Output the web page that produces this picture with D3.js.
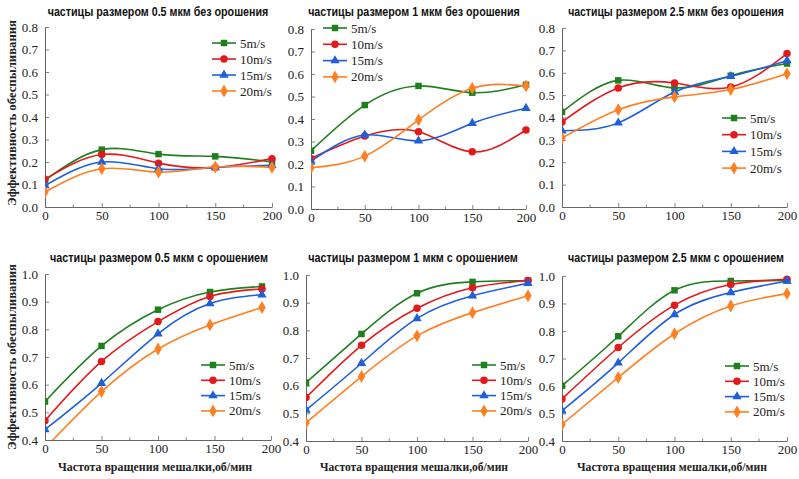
<!DOCTYPE html>
<html>
<head>
<meta charset="utf-8">
<script src="https://cdn.jsdelivr.net/npm/d3@7"></script>
<style>
  body { margin: 0; background: #fff; }
  .tick-label { font-family: "Liberation Serif", "Times New Roman", serif; font-size: 13px; fill: #222; }
  .title { font-family: "Liberation Sans Narrow", "Liberation Sans", Arial, sans-serif; font-weight: bold; font-size: 12px; fill: #111; }
  .axis-title { font-family: "Liberation Serif", "Times New Roman", serif; font-weight: bold; font-size: 13px; fill: #222; }
  .legend-text { font-family: "Liberation Serif", "Times New Roman", serif; font-size: 13px; fill: #222; }
</style>
</head>
<body>
<div id="chart"></div>
<script>
// speeds (legend) and stirrer rpm (x values)
const speeds = ["5m/s", "10m/s", "15m/s", "20m/s"];
const rpm = [0, 50, 100, 150, 200];
const rpmSpray05 = [0, 50, 100, 146, 192];
const yTicksDry = [0, 0.1, 0.2, 0.3, 0.4, 0.5, 0.6, 0.7, 0.8];
const yTicksSpray = [0.4, 0.5, 0.6, 0.7, 0.8, 0.9, 1.0];
const xTicks = [0, 50, 100, 150, 200];

// dust removal efficiency, one row per speed
const dry05 = [
  [0.12, 0.255, 0.235, 0.225, 0.20],
  [0.123, 0.233, 0.195, 0.176, 0.215],
  [0.095, 0.20, 0.17, 0.175, 0.185],
  [0.067, 0.17, 0.155, 0.178, 0.176]
];
const dry1 = [
  [0.259, 0.462, 0.547, 0.517, 0.552],
  [0.225, 0.324, 0.343, 0.254, 0.351],
  [0.213, 0.329, 0.303, 0.381, 0.448],
  [0.183, 0.235, 0.396, 0.537, 0.547]
];
const dry25 = [
  [0.425, 0.566, 0.532, 0.587, 0.641],
  [0.38, 0.532, 0.554, 0.536, 0.686],
  [0.341, 0.376, 0.514, 0.584, 0.654],
  [0.308, 0.435, 0.492, 0.525, 0.596]
];
const spray05 = [
  [0.539, 0.74, 0.871, 0.935, 0.955],
  [0.47, 0.684, 0.828, 0.919, 0.946],
  [0.438, 0.605, 0.784, 0.893, 0.925],
  [0.37, 0.575, 0.729, 0.816, 0.879]
];
const spray1 = [
  [0.611, 0.787, 0.934, 0.975, 0.98],
  [0.557, 0.746, 0.88, 0.954, 0.98],
  [0.512, 0.681, 0.843, 0.925, 0.97],
  [0.466, 0.633, 0.78, 0.864, 0.925]
];
const spray25 = [
  [0.601, 0.781, 0.948, 0.982, 0.984],
  [0.553, 0.74, 0.894, 0.969, 0.988],
  [0.51, 0.684, 0.86, 0.94, 0.982],
  [0.46, 0.631, 0.79, 0.891, 0.936]
];

const colors = ["#1f7f1f", "#e31a1c", "#1f5fdc", "#ff8022"];
const symbols = [d3.symbolSquare, d3.symbolCircle, d3.symbolTriangle, d3.symbolDiamond];
const symSizes = [42, 44, 38, 48];

const W = 799, H = 479;

const panels = [
  {title: "частицы размером 0.5 мкм без орошения", tl: 221, data: dry05, xs: rpm, yd: [0, 0.8], yt: yTicksDry,
   x0: 45, x1: 272, yTop: 27, yBot: 207, ty: 16, tx: 158, lx: 212, ly: 43, ls: 16},
  {title: "частицы размером 1 мкм без орошения", tl: 212, data: dry1, xs: rpm, yd: [0, 0.8], yt: yTicksDry,
   x0: 311, x1: 526, yTop: 29, yBot: 209, ty: 16, tx: 414, lx: 323, ly: 28, ls: 16.3},
  {title: "частицы размером 2.5 мкм без орошения", tl: 216, data: dry25, xs: rpm, yd: [0, 0.8], yt: yTicksDry,
   x0: 562, x1: 787, yTop: 28, yBot: 207, ty: 16, tx: 676, lx: 722, ly: 118, ls: 16.7},
  {title: "частицы размером 0.5 мкм с орошением", tl: 218, data: spray05, xs: rpmSpray05, yd: [0.4, 1.0], yt: yTicksSpray,
   x0: 45, x1: 271, yTop: 274, yBot: 440, ty: 262, tx: 159, lx: 201, ly: 365, ls: 15.3},
  {title: "частицы размером 1 мкм с орошением", tl: 210, data: spray1, xs: rpm, yd: [0.4, 1.0], yt: yTicksSpray,
   x0: 306, x1: 528, yTop: 275, yBot: 441, ty: 262, tx: 413, lx: 472, ly: 365, ls: 15.3},
  {title: "частицы размером 2.5 мкм с орошением", tl: 216, data: spray25, xs: rpm, yd: [0.4, 1.0], yt: yTicksSpray,
   x0: 562, x1: 787, yTop: 276, yBot: 441, ty: 262, tx: 676, lx: 725, ly: 366, ls: 15.3}
];

const svg = d3.select("#chart")
  .append("svg")
  .attr("width", W)
  .attr("height", H)
  .style("background", "#fff");

panels.forEach((p, pi) => {
  const x = d3.scaleLinear().domain([0, 200]).range([p.x0, p.x1]);
  const y = d3.scaleLinear().domain(p.yd).range([p.yBot, p.yTop]);
  const g = svg.append("g");

  // title, squeezed horizontally to the narrow look of the original
  const t = g.append("text")
    .attr("class", "title")
    .attr("text-anchor", "middle")
    .text(p.title);
  const natural = t.node().getComputedTextLength();
  const sx = Math.min(1, p.tl / natural);
  t.attr("transform", `translate(${p.tx},${p.ty}) scale(${sx},1)`);

  // minor x ticks
  g.selectAll(".minor")
    .data(d3.range(25, 200, 50))
    .join("line")
    .attr("x1", d => x(d)).attr("x2", d => x(d))
    .attr("y1", p.yBot).attr("y2", p.yBot - 2.5)
    .attr("stroke", "#666").attr("stroke-width", 0.8);

  // x axis
  const xAxis = d3.axisBottom(x).tickValues(xTicks).tickSizeInner(-4).tickSizeOuter(0).tickPadding(4);
  const gx = g.append("g").attr("transform", `translate(0,${p.yBot})`).call(xAxis);
  // y axis
  const yAxis = d3.axisLeft(y).tickValues(p.yt).tickFormat(d3.format(".1f")).tickSizeInner(-4).tickSizeOuter(0).tickPadding(7);
  const gy = g.append("g").attr("transform", `translate(${p.x0},0)`).call(yAxis);

  [gx, gy].forEach(a => {
    a.attr("font-size", null).attr("font-family", null);
    a.select(".domain").attr("stroke", "#666").attr("stroke-width", 1);
    a.selectAll(".tick line").attr("stroke", "#666").attr("stroke-width", 0.8);
    a.selectAll(".tick text").attr("class", "tick-label");
  });

  // clip so curves stay inside the plot
  const clipId = "clip" + pi;
  svg.append("clipPath").attr("id", clipId)
    .append("rect")
    .attr("x", p.x0).attr("y", p.yTop - 10)
    .attr("width", p.x1 - p.x0 + 10).attr("height", p.yBot - p.yTop + 10);

  const line = d3.line()
    .x((d, i) => x(p.xs[i]))
    .y(d => y(d))
    .curve(d3.curveNatural);

  const plot = g.append("g").attr("clip-path", `url(#${clipId})`);

  p.data.forEach((vals, si) => {
    plot.append("path")
      .datum(vals)
      .attr("fill", "none")
      .attr("stroke", colors[si])
      .attr("stroke-width", 1.6)
      .attr("d", line);
  });

  p.data.forEach((vals, si) => {
    plot.selectAll(".m" + si)
      .data(vals)
      .join("path")
      .attr("transform", (d, i) => `translate(${x(p.xs[i])},${y(d)})`)
      .attr("d", d3.symbol().type(symbols[si]).size(symSizes[si]))
      .attr("fill", colors[si]);
  });

  // legend
  const lg = g.append("g");
  speeds.forEach((s, si) => {
    const yy = p.ly + si * p.ls;
    lg.append("line")
      .attr("x1", p.lx).attr("x2", p.lx + 24)
      .attr("y1", yy).attr("y2", yy)
      .attr("stroke", colors[si]).attr("stroke-width", 1.6);
    lg.append("path")
      .attr("transform", `translate(${p.lx + 12},${yy})`)
      .attr("d", d3.symbol().type(symbols[si]).size(symSizes[si]))
      .attr("fill", colors[si]);
    lg.append("text")
      .attr("class", "legend-text")
      .attr("x", p.lx + 28)
      .attr("y", yy + 4.5)
      .text(s);
  });
});

// y-axis titles
[113, 357].forEach(cy => {
  svg.append("text")
    .attr("class", "axis-title")
    .attr("transform", `translate(16,${cy}) rotate(-90)`)
    .attr("text-anchor", "middle")
    .attr("textLength", 186)
    .attr("lengthAdjust", "spacingAndGlyphs")
    .text("Эффективность обеспыливания");
});

// x-axis titles
[[155, 194], [414, 188], [672, 190]].forEach(([cx, tl]) => {
  svg.append("text")
    .attr("class", "axis-title")
    .attr("x", cx)
    .attr("y", 471)
    .attr("text-anchor", "middle")
    .attr("textLength", tl)
    .attr("lengthAdjust", "spacingAndGlyphs")
    .text("Частота вращения мешалки,об/мин");
});
</script>
</body>
</html>
